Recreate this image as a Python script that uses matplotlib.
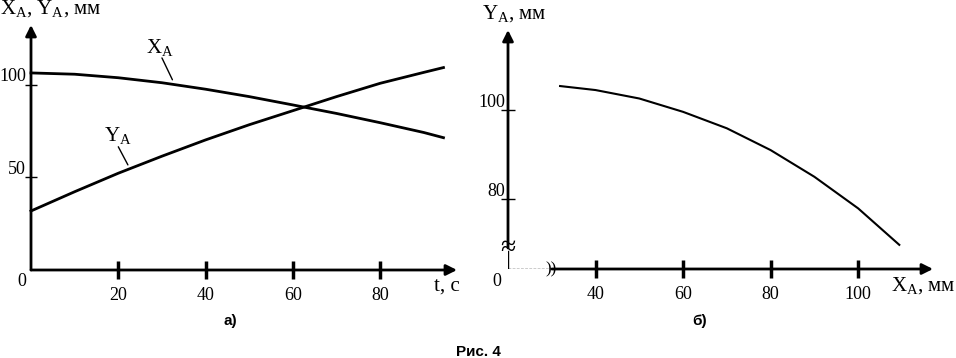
import numpy as np
import matplotlib
matplotlib.use('Agg')
import matplotlib.pyplot as plt

plt.rcParams['font.family'] = ['Liberation Serif', 'DejaVu Serif']
plt.rcParams['mathtext.fontset'] = 'custom'
plt.rcParams['mathtext.rm'] = 'Liberation Serif'
plt.rcParams['mathtext.it'] = 'Liberation Serif'

# --- data ---
# a) X_A(t), Y_A(t)
t = [0, 10, 20, 30, 40, 50, 60, 70, 80, 90, 94.5]
x_a = [106.5, 105.8, 103.9, 101.2, 97.7, 93.7, 89.2, 84.6, 79.6, 74.3, 71.5]
y_a = [31.9, 42.3, 52.3, 61.5, 70.3, 78.5, 86.1, 93.7, 100.9, 106.8, 109.4]
ticks_a_x = [20, 40, 60, 80]
ticks_a_y = [50, 100]

# b) Y_A(X_A)
xb = [31.9, 40, 50, 60, 70, 80, 90, 100, 109.4]
yb = [105.4, 104.5, 102.6, 99.6, 95.9, 91.0, 85.0, 77.9, 69.7]
ticks_b_x = [40, 60, 80, 100]
ticks_b_y = [80, 100]

W, H = 956, 358
fig = plt.figure(figsize=(W / 100, H / 100), dpi=100)


def box(l, r, t_, b):
    return [l / W, (H - b) / H, (r - l) / W, (b - t_) / H]


def bare(ax):
    for s in ax.spines.values():
        s.set_visible(False)
    ax.patch.set_visible(False)


arrow = dict(arrowstyle='-|>', lw=2, color='black', mutation_scale=16,
             shrinkA=0, shrinkB=0)
leader = dict(arrowstyle='-', lw=1, color='black', shrinkA=0, shrinkB=0)

# ---------- a) ----------
ax1 = fig.add_axes(box(31, 457, 25, 270))
bare(ax1)
ax1.set_xlim(0, 97.6)
ax1.set_ylim(0, 132.4)
ax1.plot(t, x_a, color='black', lw=2, clip_on=False)
ax1.plot(t, y_a, color='black', lw=2, clip_on=False)
ax1.annotate('', xy=(97.6, 0), xytext=(0, 0), arrowprops=arrow)
ax1.annotate('', xy=(0, 132.4), xytext=(0, 0), arrowprops=arrow)
ax1.set_xticks(ticks_a_x)
ax1.set_xticklabels([str(v) for v in ticks_a_x])
ax1.tick_params(axis='x', direction='inout', length=13, width=2.5, pad=6,
                labelsize=13)
ax1.set_yticks(ticks_a_y)
ax1.set_yticklabels([])
ax1.tick_params(axis='y', direction='inout', length=8, width=1)
for v in ticks_a_y:
    ax1.annotate(str(v), xy=(0, v), xytext=(-5, 8), textcoords='offset pixels',
                 ha='right', va='center', fontsize=13)
ax1.annotate('0', xy=(0, 0), xytext=(-9, -11), textcoords='offset pixels',
             ha='center', va='center', fontsize=13)
ax1.annotate('t, с', xy=(97.6, 0), xytext=(-10, -16), textcoords='offset pixels',
             ha='center', va='center', fontsize=15)
ax1.annotate(r'X$_\mathrm{A}$, Y$_\mathrm{A}$, мм', xy=(0, 132.4), xytext=(-31, 16),
             textcoords='offset pixels', ha='left', va='center', fontsize=15)
# curve labels with leader lines
ax1.text(29.6, 120.5, r'X$_\mathrm{A}$', ha='center', va='center', fontsize=15)
ax1.annotate('', xy=(32.4, 102.8), xytext=(30.0, 114.6), arrowprops=leader)
ax1.text(19.9, 72.5, r'Y$_\mathrm{A}$', ha='center', va='center', fontsize=15)
ax1.annotate('', xy=(22.2, 56.8), xytext=(20.0, 66.6), arrowprops=leader)

# ---------- b) ----------
ax2 = fig.add_axes(box(508, 933, 30, 269))
bare(ax2)
ax2.set_xlim(20, 117.1)
ax2.set_ylim(64.27, 118)
ax2.plot(xb, yb, color='black', lw=1.5, clip_on=False)
ax2.annotate('', xy=(117.1, 64.27), xytext=(30, 64.27), arrowprops=arrow)
ax2.annotate('', xy=(20, 118), xytext=(20, 69.0), arrowprops=arrow)
# broken parts of the axes
ax2.plot([20, 29.5], [64.27, 64.27], color='black', lw=1, ls=(0, (2, 1)))
ax2.plot([20, 20], [64.27, 68.3], color='black', lw=1)
ax2.text(29.8, 64.27, '))', ha='center', va='center', fontsize=12)
ax2.text(20, 68.9, '≈', ha='center', va='center', fontsize=20)
ax2.set_xticks(ticks_b_x)
ax2.set_xticklabels([str(v) for v in ticks_b_x])
ax2.tick_params(axis='x', direction='inout', length=13, width=2.5, pad=6,
                labelsize=13)
ax2.set_yticks(ticks_b_y)
ax2.set_yticklabels([])
ax2.tick_params(axis='y', direction='inout', length=10, width=1)
for v in ticks_b_y:
    ax2.annotate(str(v), xy=(20, v), xytext=(-3, 8), textcoords='offset pixels',
                 ha='right', va='center', fontsize=13)
ax2.annotate('0', xy=(20, 64.27), xytext=(-11, -12), textcoords='offset pixels',
             ha='center', va='center', fontsize=13)
ax2.annotate(r'X$_\mathrm{A}$, мм', xy=(117.1, 64.27), xytext=(-10, -17),
             textcoords='offset pixels', ha='center', va='center', fontsize=15)
ax2.annotate(r'Y$_\mathrm{A}$, мм', xy=(20, 118), xytext=(-26, 16),
             textcoords='offset pixels', ha='left', va='center', fontsize=15)

# captions
cap = dict(family=['Liberation Sans', 'DejaVu Sans'], fontweight='bold',
           fontsize=11, ha='center', va='center')
fig.text(230 / W, 1 - 321 / H, 'а)', **cap)
fig.text(700 / W, 1 - 321 / H, 'б)', **cap)
fig.text(478 / W, 1 - 352 / H, 'Рис. 4', **cap)

fig.savefig('out.png', dpi=100)
